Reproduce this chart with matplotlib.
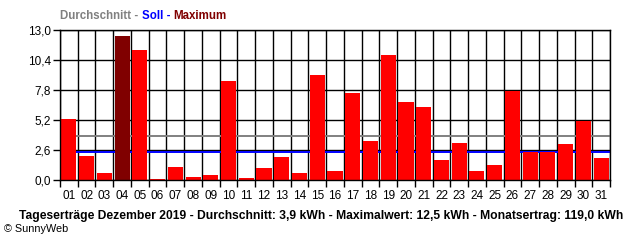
import matplotlib
matplotlib.use("Agg")
import matplotlib.pyplot as plt
from matplotlib.offsetbox import TextArea, HPacker, AnchoredOffsetbox

days = ["01","02","03","04","05","06","07","08","09","10","11","12","13","14","15","16",
        "17","18","19","20","21","22","23","24","25","26","27","28","29","30","31"]
values = [5.29, 2.05, 0.57, 12.5, 11.23, 0.1, 1.09, 0.23, 0.4, 8.6, 0.2, 1.0, 1.96, 0.57,
          9.06, 0.75, 7.5, 3.35, 10.8, 6.72, 6.29, 1.7, 3.17, 0.75, 1.27, 7.68, 2.43, 2.43,
          3.08, 5.08, 1.87]
avg_value = 3.82
soll_value = 2.43
yticks = [0.0, 2.6, 5.2, 7.8, 10.4, 13.0]
ytick_labels = ["0,0", "2,6", "5,2", "7,8", "10,4", "13,0"]
title = "Tageserträge Dezember 2019 - Durchschnitt: 3,9 kWh - Maximalwert: 12,5 kWh - Monatsertrag: 119,0 kWh"
legend_parts = [("Durchschnitt - ", "#808080"), ("Soll - ", "#0000FF"), ("Maximum", "#800000")]

plt.rcParams["font.family"] = ["Liberation Sans", "DejaVu Sans"]

W, H = 640, 240
fig = plt.figure(figsize=(6.4, 2.4), dpi=100)
ax = fig.add_axes([60 / W, (H - 180) / H, 550 / W, 150 / H])

x = list(range(1, len(days) + 1))
maxv = max(values)
colors = ["#800000" if v == maxv else "#FF0000" for v in values]
ax.bar(x, values, width=0.85, color=colors, zorder=3)
ax.axhline(avg_value, color="#808080", lw=1.4, zorder=1.5)
ax.axhline(soll_value, color="#0000FF", lw=1.4, zorder=1.6)

ax.set_xlim(0.5, len(days) + 0.5)
ax.set_ylim(0, 13.0)
ax.set_yticks(yticks)
ax.set_yticklabels(ytick_labels)
bounds = [i + 0.5 for i in range(0, len(days) + 1)]
ax.set_xticks(bounds)
ax.set_xticklabels([])
ax.set_xticks(x, minor=True)
ax.set_xticklabels(days, minor=True)
ax.tick_params(axis="x", which="major", length=5, width=1, color="black", direction="out")
ax.tick_params(axis="x", which="minor", length=0, pad=7, labelsize=8.5)
ax.tick_params(axis="y", length=5, width=1, color="black", direction="out", labelsize=8.5, pad=1.5)
ax.grid(True, which="major", color="black", lw=1, zorder=0)
ax.set_axisbelow(True)
for s in ax.spines.values():
    s.set_color("black")
    s.set_linewidth(1)
    s.set_zorder(4)

# legend title
areas = [TextArea(t, textprops=dict(color=c, fontsize=8.3, fontweight="bold")) for t, c in legend_parts]
box = HPacker(children=areas, align="baseline", pad=0, sep=0)
anch = AnchoredOffsetbox(loc="lower left", child=box, pad=0, frameon=False,
                         bbox_to_anchor=(60 / W, 1 - 22 / H), bbox_transform=fig.transFigure,
                         borderpad=0)
fig.add_artist(anch)

fig.text(321 / W, 1 - 216 / H, title, ha="center", va="center", fontsize=8.75, fontweight="bold")
fig.text(4 / W, 1 - 229 / H, "© SunnyWeb", ha="left", va="center", fontsize=7.8)

fig.savefig("out.png", dpi=100)
